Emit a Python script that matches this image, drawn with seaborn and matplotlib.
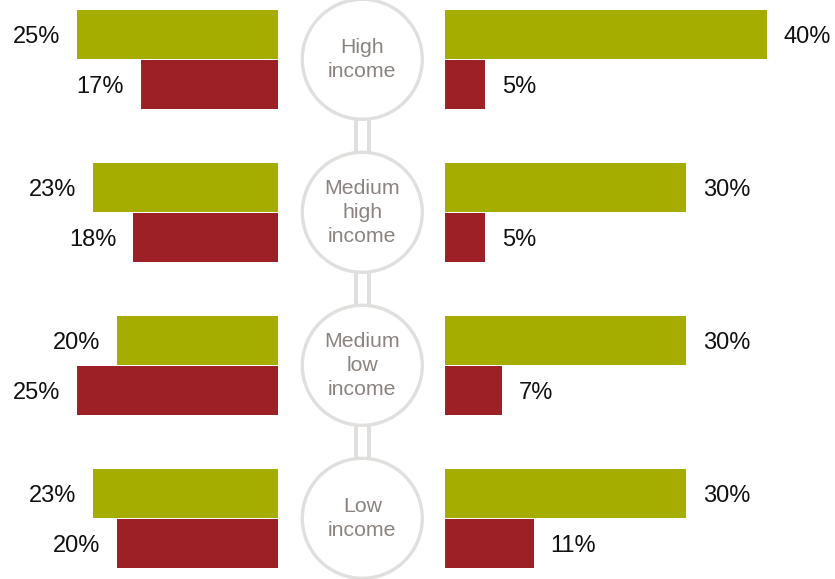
import matplotlib
matplotlib.use("Agg")
import matplotlib.pyplot as plt
from matplotlib.patches import Circle
import numpy as np
import pandas as pd
import seaborn as sns

# Income groups (top to bottom) and the two shares shown on each side
groups = ["High\nincome", "Medium\nhigh\nincome", "Medium\nlow\nincome", "Low\nincome"]
series = ["green", "red"]
left_green = [25, 23, 20, 23]
left_red = [17, 18, 25, 20]
right_green = [40, 30, 30, 30]
right_red = [5, 5, 7, 11]

GREEN = "#a4ad00"
RED = "#9c2026"
RING = "#e1dfdd"
LABEL_GRAY = "#8a837f"

sns.set_theme(style="white")
plt.rcParams["font.family"] = ["Liberation Sans", "DejaVu Sans"]

W, H = 835, 579
fig = plt.figure(figsize=(W / 100, H / 100), dpi=100)

PX_PER_PCT = 8.03       # horizontal scale of the bars
PX_PER_ROW = 153.0      # vertical distance between groups
FIRST_ROW_PX = 59.3     # centre of first group from the top
LEFT_END = 277.7        # left bars grow leftwards from here
RIGHT_START = 445.3     # right bars grow rightwards from here
y_top = -FIRST_ROW_PX / PX_PER_ROW
y_bot = (H - FIRST_ROW_PX) / PX_PER_ROW


def frame(values_green, values_red):
    return pd.DataFrame({
        "group": groups * 2,
        "series": [series[0]] * len(groups) + [series[1]] * len(groups),
        "value": list(values_green) + list(values_red),
    })


ax_l = fig.add_axes([0, 0, LEFT_END / W, 1])
ax_r = fig.add_axes([RIGHT_START / W, 0, 1 - RIGHT_START / W, 1])
ax_c = fig.add_axes([LEFT_END / W, 0, (RIGHT_START - LEFT_END) / W, 1])

bar_kw = dict(y="group", x="value", hue="series", orient="h",
              palette={"green": GREEN, "red": RED}, width=100 / PX_PER_ROW,
              gap=0.026, legend=False, saturation=1, linewidth=0)

sns.barplot(data=frame(left_green, left_red), ax=ax_l, **bar_kw)
sns.barplot(data=frame(right_green, right_red), ax=ax_r, **bar_kw)

ax_l.set_xlim(LEFT_END / PX_PER_PCT, 0)
ax_r.set_xlim(0, (W - RIGHT_START) / PX_PER_PCT)

for ax, side in ((ax_l, "left"), (ax_r, "right")):
    ax.set_ylim(y_bot, y_top)
    ax.axis("off")
    for cont in ax.containers:
        for bar in cont:
            val = bar.get_width()
            yc = bar.get_y() + bar.get_height() / 2
            dx, ha = (-12.2, "right") if side == "left" else (12.2, "left")
            ax.annotate(f"{val:.0f}%", (val, yc), xytext=(dx, -1.8),
                        textcoords="offset points", ha=ha, va="center",
                        fontsize=17, color="#111111")

# Centre column: rings joined by double connectors, with group names inside
cx_left_px = 362.3 - LEFT_END
ax_c.set_xlim(-cx_left_px / PX_PER_ROW, (RIGHT_START - 362.3) / PX_PER_ROW)
ax_c.set_ylim(y_bot, y_top)
ax_c.axis("off")
ax_c.patch.set_alpha(0)

rows = np.arange(len(groups))
offset = 6.7 / PX_PER_ROW
for i in rows[:-1]:
    for dx in (-offset, offset):
        ax_c.plot([dx, dx], [i, i + 1], color=RING, lw=2.9,
                  solid_capstyle="butt", zorder=1)
radius = 60 / PX_PER_ROW
for i, name in zip(rows, groups):
    ax_c.add_patch(Circle((0, i), radius, facecolor="white", edgecolor=RING,
                          lw=2.4, zorder=2))
    ax_c.text(0, i, name, ha="center", va="center", fontsize=15.3,
              color=LABEL_GRAY, linespacing=1.32, zorder=3)

fig.savefig("out.png", dpi=100)
